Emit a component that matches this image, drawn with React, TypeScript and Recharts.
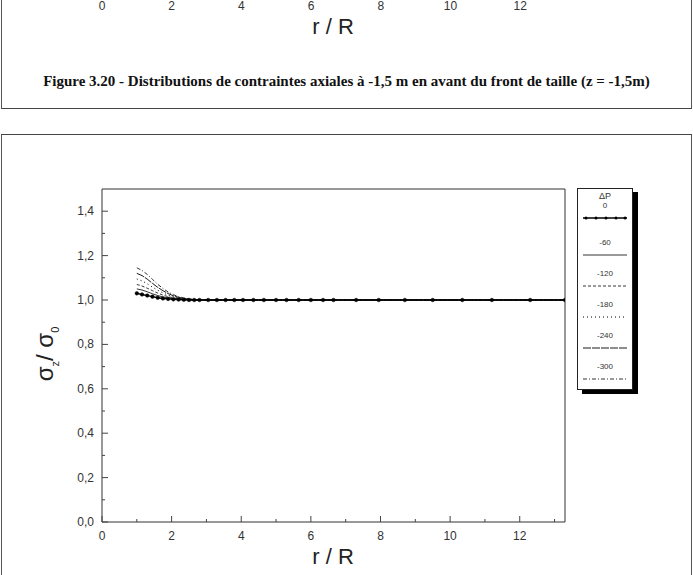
import React from 'react';
import { LineChart, Line, XAxis, YAxis, ReferenceLine } from 'recharts';

// r/R mesh nodes along the profile
const rNodes = [
  1.0, 1.15, 1.3, 1.45, 1.6, 1.75, 1.9, 2.05, 2.2, 2.35, 2.5, 2.65, 2.8, 3.05, 3.3, 3.55, 3.8,
  4.05, 4.35, 4.65, 5.0, 5.3, 5.65, 6.0, 6.35, 6.65, 7.3, 7.95, 8.7, 9.5, 10.35, 11.2, 12.3, 13.3,
];

// sigma_z / sigma_0 for each pressure drop
const dp0 = [
  1.03, 1.025, 1.02, 1.015, 1.01, 1.007, 1.005, 1.003, 1.002, 1.001, 1.0, 1.0, 1.0, 1.0, 1.0, 1.0, 1.0,
  1.0, 1.0, 1.0, 1.0, 1.0, 1.0, 1.0, 1.0, 1.0, 1.0, 1.0, 1.0, 1.0, 1.0, 1.0, 1.0, 1.0,
];
const dp60 = [
  1.05, 1.045, 1.037, 1.028, 1.02, 1.014, 1.009, 1.006, 1.003, 1.002, 1.001, 1.0, 1.0, 1.0, 1.0, 1.0, 1.0,
  1.0, 1.0, 1.0, 1.0, 1.0, 1.0, 1.0, 1.0, 1.0, 1.0, 1.0, 1.0, 1.0, 1.0, 1.0, 1.0, 1.0,
];
const dp120 = [
  1.07, 1.063, 1.053, 1.042, 1.031, 1.022, 1.015, 1.01, 1.006, 1.003, 1.002, 1.001, 1.0, 1.0, 1.0, 1.0, 1.0,
  1.0, 1.0, 1.0, 1.0, 1.0, 1.0, 1.0, 1.0, 1.0, 1.0, 1.0, 1.0, 1.0, 1.0, 1.0, 1.0, 1.0,
];
const dp180 = [
  1.095, 1.086, 1.073, 1.058, 1.044, 1.032, 1.022, 1.015, 1.009, 1.005, 1.003, 1.001, 1.0, 1.0, 1.0, 1.0, 1.0,
  1.0, 1.0, 1.0, 1.0, 1.0, 1.0, 1.0, 1.0, 1.0, 1.0, 1.0, 1.0, 1.0, 1.0, 1.0, 1.0, 1.0,
];
const dp240 = [
  1.12, 1.11, 1.094, 1.075, 1.057, 1.042, 1.029, 1.019, 1.012, 1.007, 1.004, 1.002, 1.001, 1.0, 1.0, 1.0, 1.0,
  1.0, 1.0, 1.0, 1.0, 1.0, 1.0, 1.0, 1.0, 1.0, 1.0, 1.0, 1.0, 1.0, 1.0, 1.0, 1.0, 1.0,
];
const dp300 = [
  1.145, 1.133, 1.115, 1.093, 1.071, 1.052, 1.036, 1.024, 1.015, 1.009, 1.005, 1.002, 1.001, 1.0, 1.0, 1.0, 1.0,
  1.0, 1.0, 1.0, 1.0, 1.0, 1.0, 1.0, 1.0, 1.0, 1.0, 1.0, 1.0, 1.0, 1.0, 1.0, 1.0, 1.0,
];

const seriesLabels = ['0', '-60', '-120', '-180', '-240', '-300'];
const xTicks = [0, 1, 2, 3, 4, 5, 6, 7, 8, 9, 10, 11, 12, 13];
const yTicks = [0, 0.1, 0.2, 0.3, 0.4, 0.5, 0.6, 0.7, 0.8, 0.9, 1.0, 1.1, 1.2, 1.3, 1.4];
const prevTickLabels = ['0', '2', '4', '6', '8', '10', '12'];

const SERIES = [
  { key: 'dp0', label: seriesLabels[0], values: dp0, dash: undefined, width: 1.4, dots: true },
  { key: 'dp60', label: seriesLabels[1], values: dp60, dash: undefined, width: 0.8, dots: false },
  { key: 'dp120', label: seriesLabels[2], values: dp120, dash: '3 2', width: 0.8, dots: false },
  { key: 'dp180', label: seriesLabels[3], values: dp180, dash: '1 3', width: 1, dots: false },
  { key: 'dp240', label: seriesLabels[4], values: dp240, dash: '8 1', width: 0.9, dots: false },
  { key: 'dp300', label: seriesLabels[5], values: dp300, dash: '4 2 1 2', width: 0.8, dots: false },
];

const data = rNodes.map((r, i) => {
  const row: Record<string, number> = { r };
  SERIES.forEach(s => { row[s.key] = s.values[i]; });
  return row;
});

const FONT = '"Liberation Sans", Arial, sans-serif';
const TICK_MARGIN = 8;

const fmt = (v: number) => v.toFixed(1).replace('.', ',');

const YTick = (props: any) => {
  const { x, y, payload } = props;
  const v = payload.value as number;
  const major = Math.round(v * 10) % 2 === 0;
  const axisX = x + TICK_MARGIN;
  return (
    <g>
      <line x1={axisX} x2={axisX + (major ? 6 : 3)} y1={y} y2={y} stroke="#444" strokeWidth={1} />
      {major && (
        <text x={x} y={y} dy={4} textAnchor="end" fontSize={12} fill="#333" fontFamily={FONT}>
          {fmt(v)}
        </text>
      )}
    </g>
  );
};

const XTick = (props: any) => {
  const { x, y, payload } = props;
  const v = payload.value as number;
  const major = v % 2 === 0;
  const axisY = y - TICK_MARGIN;
  return (
    <g>
      <line x1={x} x2={x} y1={axisY} y2={axisY - (major ? 6 : 3)} stroke="#444" strokeWidth={1} />
      {major && (
        <text x={x} y={y} dy={10} textAnchor="middle" fontSize={12} fill="#333" fontFamily={FONT}>
          {v}
        </text>
      )}
    </g>
  );
};

const LegendBox = () => (
  <div
    style={{
      position: 'absolute',
      left: 577,
      top: 188,
      width: 56,
      height: 202,
      border: '1px solid #222',
      boxShadow: '5px 4px 0 #000',
      background: '#fff',
      fontFamily: FONT,
      color: '#333',
      boxSizing: 'border-box',
      textAlign: 'center',
    }}
  >
    <div style={{ fontSize: 9, lineHeight: '10px', marginTop: 2 }}>ΔP</div>
    {SERIES.map((s, i) => (
      <div key={s.key} style={{ height: 31 }}>
        <div style={{ fontSize: 8, lineHeight: '10px', paddingTop: i === 0 ? 0 : 6 }}>{s.label}</div>
        <svg width={46} height={8} style={{ display: 'block', margin: '3px auto 0' }}>
          <line
            x1={1}
            x2={45}
            y1={4}
            y2={4}
            stroke="#000"
            strokeWidth={s.width}
            strokeDasharray={s.dash}
          />
          {s.dots && [4, 14, 24, 34, 43].map(cx => <circle key={cx} cx={cx} cy={4} r={1.5} fill="#000" />)}
        </svg>
      </div>
    ))}
  </div>
);

export default function App() {
  return (
    <div
      style={{
        position: 'absolute',
        left: 0,
        top: 0,
        width: 693,
        height: 575,
        background: '#fff',
        overflow: 'hidden',
        fontFamily: FONT,
      }}
    >
      {/* bottom of the previous figure */}
      <div style={{ position: 'absolute', left: 1, top: -10, width: 689, height: 118, borderLeft: '1px solid #555', borderRight: '1px solid #555', borderBottom: '1.5px solid #444' }} />
      {prevTickLabels.map((t, i) => (
        <div key={t} style={{ position: 'absolute', left: 102 + i * 69.7 - 15, width: 30, top: -1, textAlign: 'center', fontSize: 12, color: '#333' }}>
          {t}
        </div>
      ))}
      <div style={{ position: 'absolute', left: 283, width: 100, top: 14, textAlign: 'center', fontSize: 22, color: '#222' }}>r / R</div>
      <div style={{ position: 'absolute', left: 0, width: 693, top: 73, textAlign: 'center', fontSize: 15, fontWeight: 'bold', fontFamily: '"Liberation Serif", "Times New Roman", serif', color: '#111', whiteSpace: 'nowrap' }}>
        Figure 3.20 - Distributions de contraintes axiales à -1,5 m en avant du front de taille (z = -1,5m)
      </div>

      {/* frame of this figure */}
      <div style={{ position: 'absolute', left: 1, top: 134, width: 689, height: 460, borderLeft: '1px solid #555', borderRight: '1px solid #555', borderTop: '1.5px solid #444' }} />

      <div style={{ position: 'absolute', left: 0, top: 0 }}>
        <LineChart width={693} height={575} data={data} margin={{ top: 189, right: 128, bottom: 23, left: 62 }}>
          <XAxis
            dataKey="r"
            type="number"
            domain={[0, 13.3]}
            ticks={xTicks}
            interval={0}
            tickSize={0}
            tickMargin={TICK_MARGIN}
            tick={<XTick />}
            height={30}
            stroke="#333"
            allowDataOverflow
          />
          <YAxis
            type="number"
            domain={[0, 1.5]}
            ticks={yTicks}
            interval={0}
            tickSize={0}
            tickMargin={TICK_MARGIN}
            tick={<YTick />}
            width={40}
            stroke="#333"
            allowDataOverflow
          />
          <ReferenceLine x={13.3} stroke="#333" ifOverflow="extendDomain" />
          <ReferenceLine y={1.5} stroke="#333" ifOverflow="extendDomain" />
          {SERIES.map(s => (
            <Line
              key={s.key}
              dataKey={s.key}
              name={s.label}
              type="linear"
              stroke="#000"
              strokeWidth={s.width}
              strokeDasharray={s.dash}
              dot={s.dots ? { r: 1.8, fill: '#000', stroke: '#000', strokeWidth: 0.5 } : false}
              isAnimationActive={false}
            />
          ))}
        </LineChart>
      </div>
      <LegendBox />

      <div style={{ position: 'absolute', left: 283, width: 100, top: 544, textAlign: 'center', fontSize: 22, color: '#222' }}>r / R</div>
      <div
        style={{
          position: 'absolute',
          left: 46,
          top: 354,
          transform: 'translate(-50%, -50%) rotate(-90deg)',
          fontSize: 24,
          color: '#222',
          whiteSpace: 'nowrap',
        }}
      >
        σ<sub style={{ fontSize: 11 }}>z</sub>/ σ<sub style={{ fontSize: 11 }}>0</sub>
      </div>
    </div>
  );
}
